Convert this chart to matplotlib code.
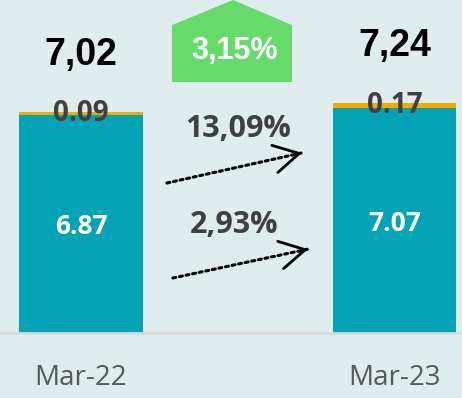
import matplotlib
import numpy as np

matplotlib.use("Agg")
import matplotlib.pyplot as plt
from matplotlib.patches import Polygon

BG, TEAL, ORANGE, GREEN = "#DFEDEE", "#03A2B4", "#F2AB00", "#66DA6A"
DARK, AXIS_GRAY, TICK_GRAY = "#404040", "#D9D9D9", "#595959"

periods = ["Mar-22", "Mar-23"]
base_values = [6.87, 7.07]
top_values = [0.09, 0.17]
totals = ["7,02", "7,24"]
growth_total = "3,15%"
growth_top = "13,09%"
growth_base = "2,93%"

HEAVY = ["Liberation Sans", "DejaVu Sans"]
plt.rcParams.update({"font.family": ["Open Sans", "DejaVu Sans"]})

fig = plt.figure(figsize=(4.62, 3.98), dpi=100)
fig.patch.set_facecolor(BG)
ax = fig.add_axes([0, 65 / 398, 1, 333 / 398])
ax.set_facecolor(BG)

x = np.arange(len(periods))
base = np.array(base_values)
top = np.array(top_values)
bw = 0.3955

ax.bar(x, base, width=bw, color=TEAL, zorder=2)
ax.bar(x, top, bottom=base, width=bw, color=ORANGE, zorder=2)

# segment labels
for i in range(len(x)):
    ax.text(x[i], base[i] / 2 - 0.08, f"{base[i]:.2f}", ha="center", va="center",
            fontsize=19, fontweight="bold", color="white", zorder=3)
    ax.text(x[i], base[i] + top[i] / 2, f"{top[i]:.2f}", ha="center", va="center",
            fontsize=20, fontweight="bold", color=DARK, zorder=3)
    ax.text(x[i], base[i] + top[i] + 1.48, totals[i], ha="center", va="baseline",
            fontsize=27, fontweight="bold", color="black", family=HEAVY, zorder=3)

# growth badge between the bars
badge = Polygon([(0.290, 7.90), (0.673, 7.90), (0.673, 9.69), (0.485, 10.48), (0.290, 9.69)],
                closed=True, facecolor=GREEN, edgecolor="none", clip_on=False, zorder=2)
ax.add_patch(badge)
ax.text(0.49, 8.86, growth_total, ha="center", va="center", fontsize=22,
        fontweight="bold", color="white", family=HEAVY, zorder=3)

# dotted growth arrows
arrows = [((0.274, 4.72), (0.705, 5.67), growth_top, (0.502, 6.42)),
          ((0.293, 1.73), (0.724, 2.64), growth_base, (0.488, 3.40))]
for start, end, label, pos in arrows:
    ax.annotate("", xy=end, xytext=start,
                arrowprops=dict(arrowstyle="-", linestyle=(0, (1, 1.2)), lw=2.2,
                                color="black", shrinkA=0, shrinkB=0))
    d = np.array(end) - np.array(start)
    near = np.array(end) - d * 0.05
    ax.annotate("", xy=end, xytext=tuple(near),
                arrowprops=dict(arrowstyle="->,head_length=0.9,head_width=0.5", lw=2,
                                color="black", shrinkA=0, shrinkB=0, mutation_scale=20))
    ax.text(pos[0], pos[1], label, ha="center", va="center", fontsize=22,
            fontweight="bold", color=DARK, zorder=3)

ax.set_xlim(-0.2584, 1.2153)
ax.set_ylim(0, 10.48)
ax.set_yticks([])
ax.set_xticks(x)
ax.set_xticklabels(periods, fontsize=20, color=TICK_GRAY)
ax.tick_params(axis="x", length=0, pad=22)
for side in ["top", "left", "right"]:
    ax.spines[side].set_visible(False)
ax.spines["bottom"].set_color(AXIS_GRAY)
ax.spines["bottom"].set_linewidth(2)
ax.spines["bottom"].set_zorder(3)

plt.savefig("out.png", dpi=100, facecolor=BG)
